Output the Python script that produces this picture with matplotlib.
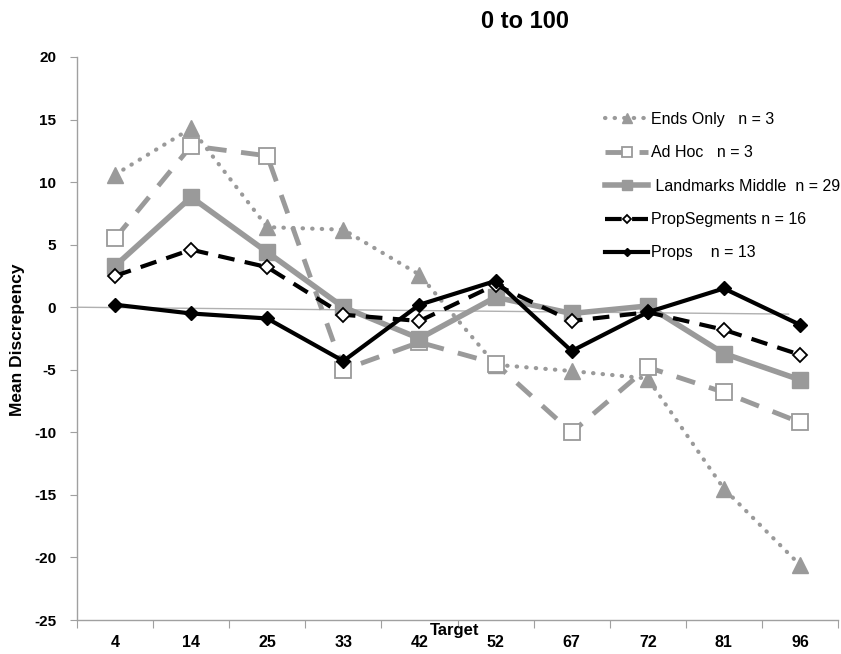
import matplotlib.pyplot as plt
import numpy as np

targets = ['4', '14', '25', '33', '42', '52', '67', '72', '81', '96']

ends_only = [10.6, 14.3, 6.4, 6.2, 2.6, -4.6, -5.1, -5.7, -14.5, -20.6]
ad_hoc = [5.5, 12.9, 12.1, -5.0, -2.8, -4.5, -10.0, -4.8, -6.8, -9.2]
landmarks = [3.3, 8.8, 4.4, 0.0, -2.5, 0.8, -0.5, 0.1, -3.7, -5.8]
prop_segments = [2.5, 4.6, 3.2, -0.6, -1.1, 1.8, -1.1, -0.4, -1.8, -3.8]
props = [0.2, -0.5, -0.9, -4.3, 0.2, 2.1, -3.5, -0.4, 1.5, -1.4]

labels = ['Ends Only   n = 3', 'Ad Hoc   n = 3', ' Landmarks Middle  n = 29',
          'PropSegments n = 16', 'Props    n = 13']

# thin reference line drawn near zero (slightly sloped in the original)
zero_x = [-0.5, 8.85]
zero_y = [0.0, -0.55]

grey = '#9a9a9a'
plt.rcParams['font.family'] = ['Liberation Sans', 'DejaVu Sans']

fig = plt.figure(figsize=(8.41, 6.54), dpi=100)
ax = fig.add_axes([77/841, 1-620/654, (838-77)/841, (620-57)/654])

x = np.arange(len(targets))

ax.plot(zero_x, zero_y, color='#b0b0b0', lw=1.0, zorder=1)

ax.plot(x, ends_only, color=grey, lw=3, ls=(0, (0.1, 2.2)), dash_capstyle='round',
        marker='^', ms=11, mfc=grey, mec=grey, label=labels[0], zorder=2)
ax.plot(x, ad_hoc, color=grey, lw=3.5, ls=(0, (4, 3)),
        marker='s', ms=11, mfc='white', mec=grey, mew=1.3, label=labels[1], zorder=3)
ax.plot(x, landmarks, color=grey, lw=4, marker='s', ms=11, mfc=grey, mec=grey,
        label=labels[2], zorder=4)
ax.plot(x, prop_segments, color='black', lw=3, ls=(0, (4, 2.5)),
        marker='D', ms=7, mfc='white', mec='black', mew=1.3, label=labels[3], zorder=5)
ax.plot(x, props, color='black', lw=3, marker='D', ms=7, mfc='black', mec='black',
        label=labels[4], zorder=6)

ax.set_xlim(-0.5, 9.5)
ax.set_ylim(-25, 20)
ax.set_yticks(np.arange(-25, 21, 5))
ax.set_yticklabels([str(v) for v in range(-25, 21, 5)], fontweight='bold', fontsize=11)

ax.set_xticks(np.arange(-0.5, 10, 1))
ax.set_xticklabels([])
ax.set_xticks(x, minor=True)
ax.set_xticklabels(targets, minor=True, fontweight='bold', fontsize=11.5)
ax.tick_params(axis='x', which='major', length=6, color='#a0a0a0', direction='out')
ax.tick_params(axis='x', which='minor', length=0, pad=11)
ax.tick_params(axis='y', length=5, color='#a0a0a0', direction='out', pad=10)

for side in ['top', 'right']:
    ax.spines[side].set_visible(False)
for side in ['left', 'bottom']:
    ax.spines[side].set_color('#a0a0a0')
    ax.spines[side].set_linewidth(1)

fig.text(525/841, 1-22/654, '0 to 100', ha='center', va='center',
         fontsize=17, fontweight='bold')
fig.text(18/841, 1-340/654, 'Mean Discrepency', rotation=90, ha='center', va='center',
         fontsize=12.5, fontweight='bold')
fig.text(455/841, 1-630/654, 'Target', ha='center', va='center',
         fontsize=12, fontweight='bold')

leg = ax.legend(loc='upper left', bbox_to_anchor=((605-77)/761, 1 - (112-57)/563),
                bbox_transform=ax.transAxes, frameon=False, fontsize=11.5,
                markerscale=0.65, handlelength=2.7, handletextpad=0.15,
                labelspacing=1.15, borderaxespad=0, borderpad=0)

fig.savefig('out.png', dpi=100)
